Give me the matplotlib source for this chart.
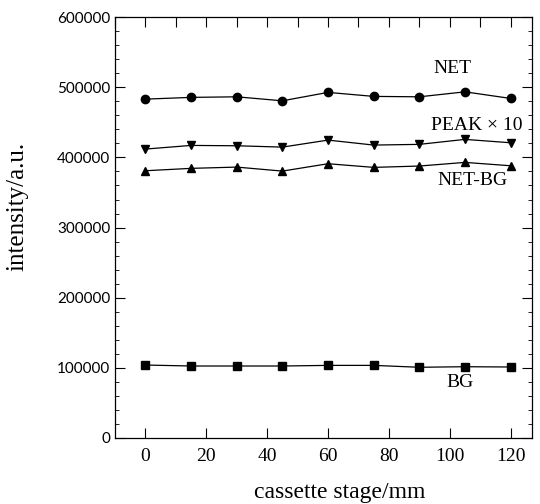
import matplotlib
matplotlib.use("Agg")
import matplotlib.pyplot as plt
from matplotlib.ticker import MultipleLocator

# cassette stage positions (mm)
stage = [0, 15, 30, 45, 60, 75, 90, 105, 120]

net = [483100, 485600, 486400, 480700, 492700, 487000, 486400, 493500, 484100]
peak10 = [411900, 417100, 416600, 414700, 424700, 417600, 418600, 425700, 420900]
net_bg = [381000, 384400, 386200, 380500, 391000, 385800, 387700, 392900, 388100]
bg = [104000, 102600, 102600, 102600, 103500, 103500, 100800, 101600, 101200]

yticks = [0, 100000, 200000, 300000, 400000, 500000, 600000]
xticks = [0, 20, 40, 60, 80, 100, 120]

plt.rcParams['font.family'] = ['Liberation Serif', 'DejaVu Serif']

fig = plt.figure(figsize=(5.4, 5.04), dpi=100)
ax = fig.add_axes([0.213, 0.131, 0.772, 0.835])

ax.plot(stage, net, color='black', lw=0.9, marker='o', ms=6)
ax.plot(stage, peak10, color='black', lw=0.9, marker='v', ms=6)
ax.plot(stage, net_bg, color='black', lw=0.9, marker='^', ms=6)
ax.plot(stage, bg, color='black', lw=0.9, marker='s', ms=6)

ax.text(100.8, 527000, 'NET', ha='center', va='center', fontsize=14)
ax.text(109, 446000, 'PEAK \u00d7 10', ha='center', va='center', fontsize=14)
ax.text(107.5, 367000, 'NET-BG', ha='center', va='center', fontsize=14)
ax.text(103.3, 79000, 'BG', ha='center', va='center', fontsize=14)

ax.set_xlim(-10, 127)
ax.set_ylim(0, 600000)
ax.set_xticks(xticks)
ax.set_yticks(yticks)
ax.xaxis.set_minor_locator(MultipleLocator(10))
ax.yaxis.set_minor_locator(MultipleLocator(20000))
ax.tick_params(which='major', direction='in', top=True, right=True, length=7, width=0.8)
ax.tick_params(axis='x', which='major', labelsize=14, pad=7)
ax.tick_params(axis='x', which='minor', direction='in', bottom=False, top=True, length=7, width=0.8)
ax.tick_params(axis='y', which='minor', direction='in', left=True, right=True, length=3, width=0.6)
for lbl in ax.get_yticklabels():
    lbl.set_family(['Lato', 'DejaVu Sans'])
    lbl.set_fontsize(11)
for sp in ax.spines.values():
    sp.set_linewidth(0.9)

ax.set_xlabel('cassette stage/mm', fontsize=17)
ax.xaxis.set_label_coords(0.54, -0.105)
ax.set_ylabel('intensity/a.u.', fontsize=18)
ax.yaxis.set_label_coords(-0.208, 0.55)

fig.savefig('out.png', dpi=100)
